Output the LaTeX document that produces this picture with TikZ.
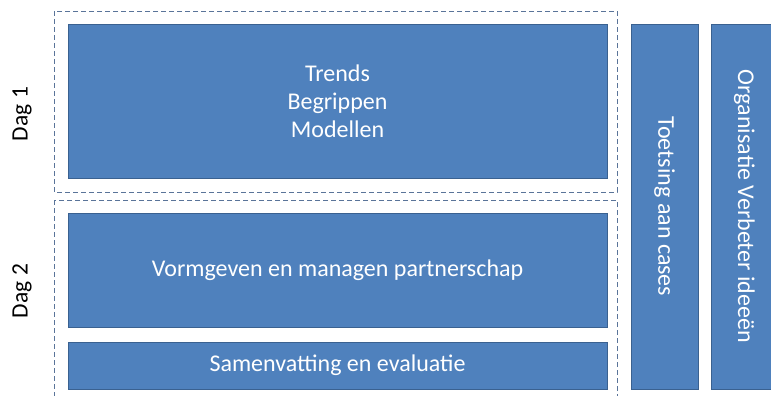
\documentclass[tikz,border=0pt]{standalone}
\usepackage{fontspec}
\setmainfont{Carlito}
\definecolor{boxblue}{HTML}{4F81BD}
\definecolor{boxedge}{HTML}{3A6190}
\definecolor{dashblue}{HTML}{5A7499}
\tikzset{
  blok/.style={draw=boxedge, fill=boxblue, line width=0.8pt, text=white,
    font=\fontsize{24}{28}\selectfont, align=center, inner sep=0pt},
  dagkader/.style={draw=dashblue, line width=0.9pt, dash pattern=on 5pt off 3pt},
  daglabel/.style={rotate=90, font=\fontsize{23.5}{26}\selectfont}
}
\begin{document}
\begin{tikzpicture}[x=1pt,y=-1pt]
        % Page size
        \clip (0,0) rectangle (771,396);
        \useasboundingbox (0,0) rectangle (771,396);

        % Dashed frames for the two days
        \draw[dagkader] (54,11) rectangle (617,192); % Day 1
        \draw[dagkader] (54,200) rectangle (617,410); % Day 2

        % Day labels
        \node[daglabel] (dag1) at (22,114) {Dag 1};
        \node[daglabel] (dag2) at (22,291) {Dag 2};

        % Blocks of day 1
        \node[blok, minimum width=539pt, minimum height=154pt] (trends) at (337.5,101)
          {Trends\\Begrippen\\Modellen};

        % Blocks of day 2
        \node[blok, minimum width=539pt, minimum height=114pt] (vormgeven) at (337.5,270)
          {Vormgeven en managen partnerschap};
        \node[blok, minimum width=539pt, minimum height=47pt] (samenvatting) at (337.5,365.5)
          {Samenvatting en evaluatie};

        % Vertical blocks on the right
        \node[blok, rotate=-90, minimum width=365pt, minimum height=67pt] (toetsing) at (664.5,206.5)
          {Toetsing aan cases};
        \node[blok, rotate=-90, minimum width=365pt, minimum height=67pt] (organisatie) at (744.5,206.5)
          {Organisatie Verbeter ideeën};
\end{tikzpicture}
\end{document}
